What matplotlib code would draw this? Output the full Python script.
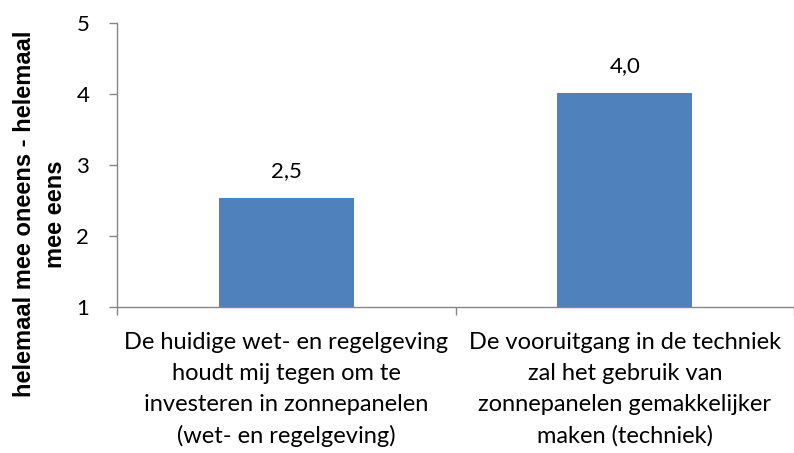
import matplotlib.pyplot as plt

plt.rcParams['font.family'] = ['Lato', 'DejaVu Sans']

# DATA
categories = [
    "De huidige wet- en regelgeving\nhoudt mij tegen om te\ninvesteren in zonnepanelen\n(wet- en regelgeving)",
    "De vooruitgang in de techniek\nzal het gebruik van\nzonnepanelen gemakkelijker\nmaken (techniek)",
]
values = [2.54, 4.02]
value_labels = ["2,5", "4,0"]
y_ticks = [1, 2, 3, 4, 5]
y_label = "helemaal mee oneens - helemaal\nmee eens"

BAR_COLOR = "#4F81BD"
AXIS_COLOR = "#868686"
FS = 16
FS_CAT = 17

fig = plt.figure(figsize=(7.94, 4.53), dpi=100)
ax = fig.add_axes([0.1474, 0.3223, 0.8526, 0.6269])

x = list(range(len(categories)))
ax.bar(x, [v - 1 for v in values], bottom=1, width=0.4, color=BAR_COLOR)

for xi, v, lab in zip(x, values, value_labels):
    ax.annotate(lab, (xi, v), xytext=(0, 15), textcoords="offset points",
                ha="center", va="baseline", fontsize=FS)

ax.set_xlim(-0.5, len(categories) - 0.5)
ax.set_ylim(1, 5)
ax.set_yticks(y_ticks)
ax.set_yticklabels([str(t) for t in y_ticks], fontsize=FS)

# category separators as major ticks, labels as minor ticks
ax.set_xticks([i - 0.5 for i in range(len(categories) + 1)])
ax.set_xticklabels([])
ax.set_xticks(x, minor=True)
ax.set_xticklabels(categories, minor=True, fontsize=FS_CAT, linespacing=1.58)
ax.tick_params(axis="x", which="minor", length=0, pad=18)
ax.tick_params(axis="x", which="major", length=6, width=1, color=AXIS_COLOR, direction="out")
ax.tick_params(axis="y", length=6, width=1, color=AXIS_COLOR, direction="out", pad=14)

for side in ["top", "right"]:
    ax.spines[side].set_visible(False)
for side in ["left", "bottom"]:
    ax.spines[side].set_color(AXIS_COLOR)
    ax.spines[side].set_linewidth(1.0)

fig.text(0.0504, 0.5276, y_label, rotation=90, ha="center", va="center",
         fontsize=17, fontweight="bold", linespacing=1.45,
         family=["Liberation Sans", "DejaVu Sans"])

fig.savefig("out.png", dpi=100)
